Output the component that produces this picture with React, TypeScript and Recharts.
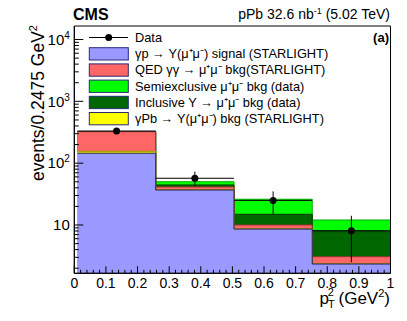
import React from "react";
import {
  ComposedChart,
  Area,
  Scatter,
  ErrorBar,
  XAxis,
  YAxis,
  ReferenceArea,
} from "recharts";

// histogram binning in pT^2 (GeV^2)
const binEdges = [0.01, 0.2575, 0.505, 0.7525, 1.0];
const binCenters = [0.13375, 0.38125, 0.62875, 0.87625];
const binHalfWidth = 0.12375;

// stacked contributions, bottom to top
const signal = [145, 36.8, 8.6, 2.34];
const gammaPb = [10.6, 0.3, 0.08, 0.02];
const qed = [167.4, 4.1, 1.32, 0.71];
const inclusive = [0, 3.2, 4.9, 4.73];
const semiexclusive = [0, 5.7, 11.2, 4.25];

// data points
const dataCounts = [331, 57, 25, 8.1];
const dataErrLow = [18, 14, 10, 5.6];
const dataErrHigh = [18, 16, 10, 6];

const xTickLabels = ["0", "0.1", "0.2", "0.3", "0.4", "0.5", "0.6", "0.7", "0.8", "0.9", "1"];
const yMajorTicks = [10, 100, 1000, 10000];
const yMajorLabels = [["10", ""], ["10", "2"], ["10", "3"], ["10", "4"]];

const Y_MIN = 1.655;
const Y_MAX = 16540;

const COLORS = {
  signal: "#9999ff",
  gammaPb: "#ffff00",
  qed: "#ff6666",
  inclusive: "#006600",
  semiexclusive: "#00ff00",
};

const FONT = "'Liberation Sans', Arial, Helvetica, sans-serif";

// build cumulative step table (last edge repeats last bin)
const layers = [signal, gammaPb, qed, inclusive, semiexclusive];
const stepTable = binEdges.map((x, i) => {
  const b = Math.min(i, signal.length - 1);
  const row: Record<string, number> = { x };
  let sum = 0;
  ["c0", "c1", "c2", "c3", "c4"].forEach((k, j) => {
    sum += layers[j][b];
    row[k] = sum;
  });
  return row;
});

const points = binCenters.map((x, i) => ({
  x,
  y: dataCounts[i],
  yerr: [dataErrLow[i], dataErrHigh[i]],
  xerr: binHalfWidth,
}));

const xTicks: number[] = [];
for (let i = 0; i <= 50; i++) xTicks.push(i / 50);

const yTicks: number[] = [];
for (let e = 0; e <= 4; e++) {
  for (let m = 1; m <= 9; m++) {
    const v = m * Math.pow(10, e);
    if (v >= Y_MIN && v <= Y_MAX) yTicks.push(v);
  }
}

function XTick(props: any) {
  const { x, y, payload } = props;
  const idx = Math.round(payload.value * 50);
  const major = idx % 5 === 0;
  return (
    <g>
      <line x1={x} x2={x} y1={y} y2={y - (major ? 7 : 3.5)} stroke="#000" />
      {major && (
        <text x={x} y={y + 15} textAnchor="middle" fontSize={14} fontFamily={FONT} fill="#000">
          {xTickLabels[idx / 5]}
        </text>
      )}
    </g>
  );
}

function YTick(props: any) {
  const { x, y, payload } = props;
  const k = yMajorTicks.indexOf(payload.value);
  const major = k >= 0;
  return (
    <g>
      <line x1={x} x2={x + (major ? 9 : 4.5)} y1={y} y2={y} stroke="#000" />
      {major && (
        <text x={x - 4.5} y={y + 5.3} textAnchor="end" fontSize={15} fontFamily={FONT} fill="#000">
          {yMajorLabels[k][0]}
          {yMajorLabels[k][1] && (
            <tspan dy={-6} fontSize={10}>
              {yMajorLabels[k][1]}
            </tspan>
          )}
        </text>
      )}
    </g>
  );
}

const legendRows = [
  { label: "γp → Υ(μ⁺μ⁻) signal (STARLIGHT)", color: COLORS.signal },
  { label: "QED γγ → μ⁺μ⁻ bkg(STARLIGHT)", color: COLORS.qed },
  { label: "Semiexclusive μ⁺μ⁻ bkg (data)", color: COLORS.semiexclusive },
  { label: "Inclusive Υ → μ⁺μ⁻ bkg (data)", color: COLORS.inclusive },
  { label: "γPb → Υ(μ⁺μ⁻) bkg (STARLIGHT)", color: COLORS.gammaPb },
];

function Overlay() {
  const rowY = (i: number) => 37.5 + i * 16.2;
  return (
    <svg
      width={407}
      height={321}
      style={{ position: "absolute", left: 0, top: 0, pointerEvents: "none" }}
      fontFamily={FONT}
    >
      <text x={73} y={20} fontSize={16} fontWeight="bold">
        CMS
      </text>
      <text x={390} y={18.5} fontSize={14} textAnchor="end">
        pPb 32.6 nb<tspan dy={-5} fontSize={9}>-1</tspan>
        <tspan dy={5}> (5.02 TeV)</tspan>
      </text>
      <text x={389} y={41.5} fontSize={13} fontWeight="bold" textAnchor="end">
        (a)
      </text>

      {/* legend */}
      <line x1={89} x2={128} y1={rowY(0)} y2={rowY(0)} stroke="#000" />
      <circle cx={108.7} cy={rowY(0)} r={3.5} fill="#000" />
      <text x={135} y={rowY(0) + 4.5} fontSize={12.8}>
        Data
      </text>
      {legendRows.map((r, i) => (
        <g key={r.label}>
          <rect
            x={89.3}
            y={rowY(i + 1) - 6}
            width={39}
            height={12.3}
            fill={r.color}
            stroke="#2a2a77"
          />
          <text x={135} y={rowY(i + 1) + 4.5} fontSize={12.8}>
            {r.label}
          </text>
        </g>
      ))}

      {/* axis titles */}
      <text x={390} y={303.5} fontSize={17} textAnchor="end">
        p<tspan dx={-1} dy={4} fontSize={11}>T</tspan>
        <tspan dx={-7} dy={-12} fontSize={11}>2</tspan>
        <tspan dy={8}> (GeV</tspan>
        <tspan dy={-7} fontSize={11}>2</tspan>
        <tspan dy={7}>)</tspan>
      </text>
      <text
        transform="translate(44,25) rotate(-90)"
        x={0}
        y={0}
        fontSize={17.5}
        textAnchor="end"
      >
        events/0.2475 GeV<tspan dy={-7} fontSize={11}>2</tspan>
      </text>
    </svg>
  );
}

export default function App() {
  return (
    <div
      style={{
        position: "absolute",
        left: 0,
        top: 0,
        width: 407,
        height: 321,
        background: "#fff",
        fontFamily: FONT,
      }}
    >
      <ComposedChart
        width={407}
        height={321}
        data={stepTable}
        margin={{ top: 26, right: 16.5, bottom: 0, left: 0 }}
      >
        <XAxis
          type="number"
          dataKey="x"
          domain={[0, 1]}
          allowDataOverflow
          ticks={xTicks}
          interval={0}
          tick={<XTick />}
          tickLine={false}
          tickSize={0}
          tickMargin={0}
          height={47.7}
          axisLine={{ stroke: "#000" }}
        />
        <YAxis
          type="number"
          scale="log"
          domain={[Y_MIN, Y_MAX]}
          allowDataOverflow
          ticks={yTicks}
          interval={0}
          tick={<YTick />}
          tickLine={false}
          tickSize={0}
          tickMargin={0}
          width={74.3}
          axisLine={{ stroke: "#000" }}
        />
        <Area
          type="stepAfter"
          dataKey="c4"
          baseValue={Y_MIN}
          fill={COLORS.semiexclusive}
          fillOpacity={1}
          stroke="#00aa00"
          isAnimationActive={false}
        />
        <Area
          type="stepAfter"
          dataKey="c3"
          baseValue={Y_MIN}
          fill={COLORS.inclusive}
          fillOpacity={1}
          stroke="#003300"
          isAnimationActive={false}
        />
        <Area
          type="stepAfter"
          dataKey="c2"
          baseValue={Y_MIN}
          fill={COLORS.qed}
          fillOpacity={1}
          stroke="#993333"
          isAnimationActive={false}
        />
        <Area
          type="stepAfter"
          dataKey="c1"
          baseValue={Y_MIN}
          fill={COLORS.gammaPb}
          fillOpacity={1}
          stroke="#999900"
          isAnimationActive={false}
        />
        <Area
          type="stepAfter"
          dataKey="c0"
          baseValue={Y_MIN}
          fill={COLORS.signal}
          fillOpacity={1}
          stroke="#222244"
          isAnimationActive={false}
        />
        <Scatter
          data={points}
          dataKey="y"
          isAnimationActive={false}
          shape={(p: any) => <circle cx={p.cx} cy={p.cy} r={3.5} fill="#000" />}
        >
          <ErrorBar dataKey="yerr" direction="y" width={0} stroke="#000" strokeWidth={1} />
          <ErrorBar dataKey="xerr" direction="x" width={0} stroke="#000" strokeWidth={1} />
        </Scatter>
        <ReferenceArea x1={0} x2={1} y1={Y_MIN} y2={Y_MAX} fill="none" stroke="#000" />
      </ComposedChart>
      <Overlay />
    </div>
  );
}
